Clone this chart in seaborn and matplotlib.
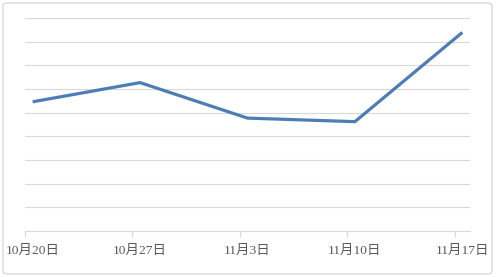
import matplotlib
matplotlib.use("Agg")
import matplotlib.pyplot as plt
from matplotlib.patches import FancyBboxPatch
import seaborn as sns
import pandas as pd
import numpy as np

dates = ["2023-10-20", "2023-10-27", "2023-11-03", "2023-11-10", "2023-11-17"]
labels = ["10月20日", "10月27日", "11月3日", "11月10日", "11月17日"]
values = [5.46, 6.27, 4.77, 4.62, 8.39]

sns.set_theme(style="white")
plt.rcParams['font.family'] = ['Liberation Serif', 'Noto Sans CJK SC', 'DejaVu Sans']

d = pd.to_datetime(dates)
day = (d - d[0]).days.to_numpy().astype(float)
df = pd.DataFrame({"x": day + 0.5, "y": values})

fig = plt.figure(figsize=(4.96, 2.77), dpi=100)
ax = fig.add_axes([25/496, 1 - 231/277, 445/496, 213/277])

sns.lineplot(data=df, x="x", y="y", ax=ax, color="#4E7DB5", linewidth=2.3,
             solid_capstyle="butt", solid_joinstyle="miter")

ax.set_xlim(0, day[-1] + 1)
ax.set_ylim(0, 9)
ax.set_yticks(np.arange(0, 10, 1))
ax.yaxis.grid(True, color="#D9D9D9", linewidth=0.8)
ax.set_axisbelow(True)
ax.tick_params(axis="y", left=False, labelleft=False)

ax.set_xticks(day)
ax.set_xticklabels([])
ax.tick_params(axis="x", which="major", direction="out", length=4, width=0.8, color="#D9D9D9", bottom=True)
ax.set_xticks(day + 0.5, minor=True)
ax.set_xticklabels(labels, minor=True)
ax.tick_params(axis="x", which="minor", length=0, labelsize=9.7, labelcolor="#595959", pad=10)

for s in ["top", "right", "left"]:
    ax.spines[s].set_visible(False)
ax.spines["bottom"].set_color("#D9D9D9")
ax.spines["bottom"].set_linewidth(0.8)
ax.set_xlabel("")
ax.set_ylabel("")

border = FancyBboxPatch((3/496, 3/277), 489/496, 271/277, boxstyle="round,pad=0,rounding_size=0.01",
                        transform=fig.transFigure, facecolor="none", edgecolor="#D9D9D9", linewidth=1.0)
fig.patches.append(border)

fig.savefig("out.png", dpi=100)
